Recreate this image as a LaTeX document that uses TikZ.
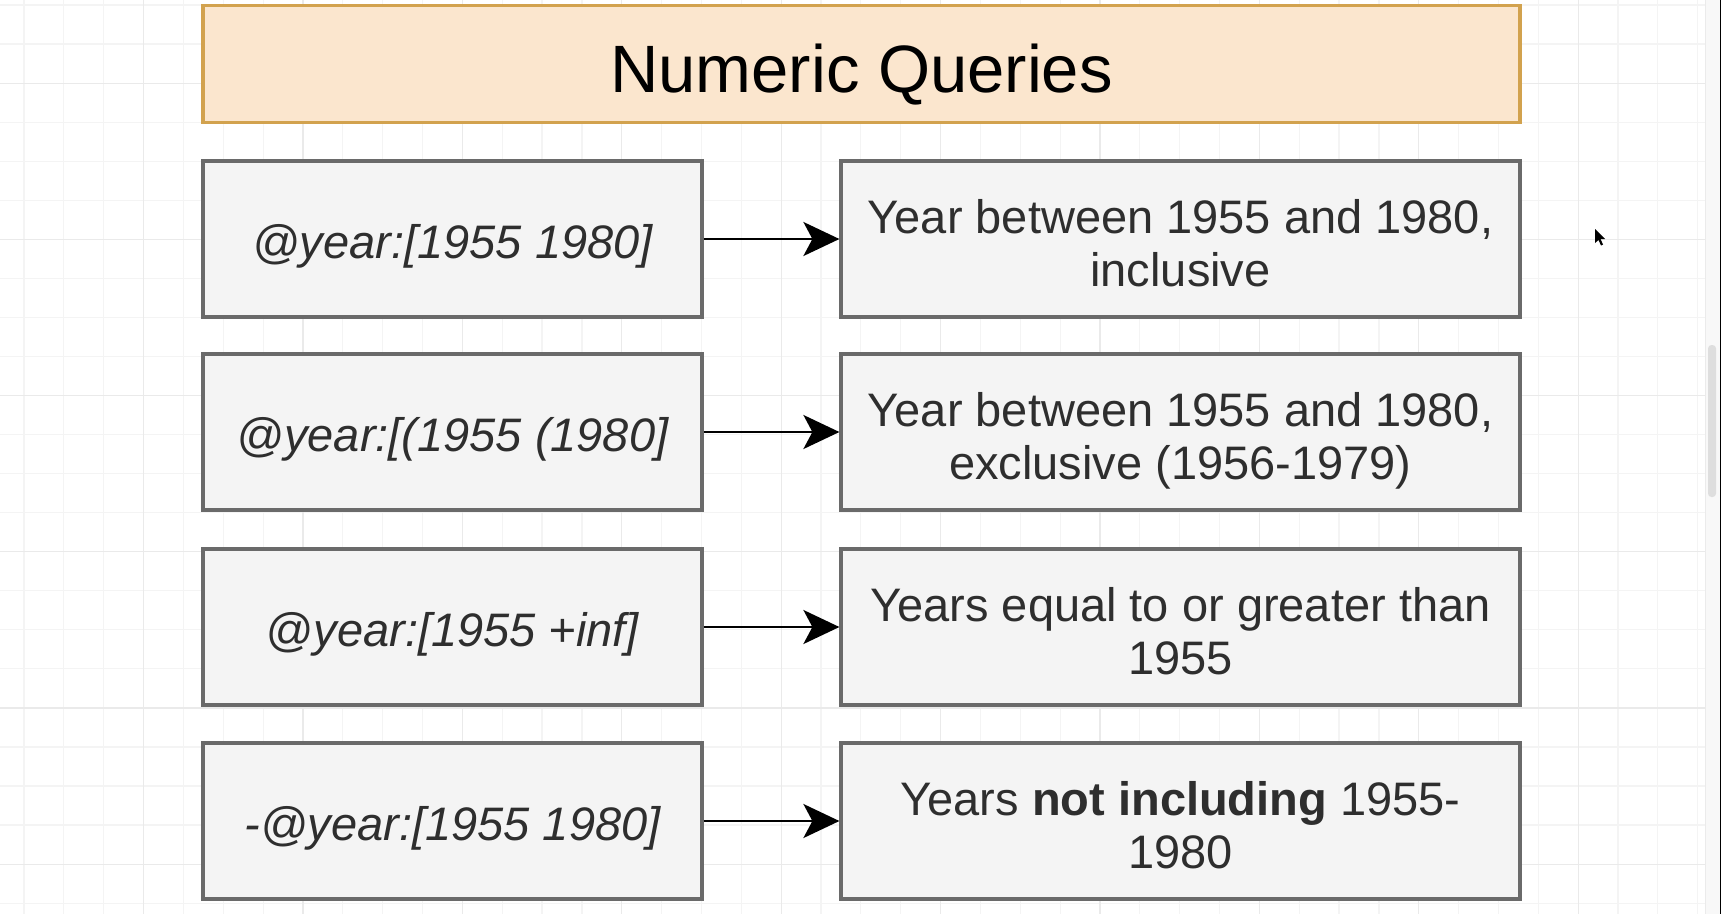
\documentclass[tikz,border=0pt]{standalone}
\usepackage{fontspec}
\setmainfont{Liberation Sans}
\usetikzlibrary{arrows.meta}
\definecolor{boxfill}{HTML}{F4F4F4}
\definecolor{boxline}{HTML}{6A6A6A}
\definecolor{titlefill}{HTML}{FBE6CE}
\definecolor{titleline}{HTML}{D2A24E}
\definecolor{txt}{HTML}{2E2E2E}
\definecolor{gridminor}{HTML}{F4F4F4}
\definecolor{gridmajor}{HTML}{EAEAEA}
\definecolor{panel}{HTML}{F8F8F8}
\definecolor{panelline}{HTML}{EBEBEB}
\definecolor{scroll}{HTML}{DEDEDE}
\tikzset{
  qbox/.style={draw=boxline, fill=boxfill, line width=3.2pt, minimum width=499pt, minimum height=156pt, inner sep=0pt, align=center, text=txt, font=\fontsize{47}{53}\selectfont\itshape, text height=38pt, text depth=0pt},
  abox/.style={draw=boxline, fill=boxfill, line width=3.2pt, minimum width=679pt, minimum height=156pt, inner sep=0pt, align=center, text=txt, font=\fontsize{47}{53}\selectfont, text height=94pt, text depth=0pt},
  titlebox/.style={draw=titleline, fill=titlefill, line width=3.2pt, minimum width=1317pt, minimum height=117pt, inner sep=0pt, text=black, font=\fontsize{67}{75}\selectfont, text height=57pt, text depth=0pt},
  arr/.style={line width=2.4pt, -{Stealth[length=36pt,width=34pt,inset=9pt]}}
}
\begin{document}
\begin{tikzpicture}[x=1pt,y=-1pt]
\useasboundingbox (0,0) rectangle (1721,914);
\fill[white] (0,0) rectangle (1721,914);
% grid
\foreach \k in {0,...,42}{
  \pgfmathsetmacro\xx{24+39.85*\k}
  \draw[gridminor, line width=1.2pt] (\xx,0) -- (\xx,914);
}
\foreach \k in {0,...,23}{
  \pgfmathsetmacro\yy{5+39.05*\k}
  \draw[gridminor, line width=1.2pt] (0,\yy) -- (1705,\yy);
}
\foreach \k in {3,7,...,42}{
  \pgfmathsetmacro\xx{24+39.85*\k}
  \draw[gridmajor, line width=1.2pt] (\xx,0) -- (\xx,914);
}
\foreach \k in {2,6,...,23}{
  \pgfmathsetmacro\yy{5+39.05*\k}
  \draw[gridmajor, line width=1.2pt] (0,\yy) -- (1705,\yy);
}
% right panel, scrollbar and screen edge
\fill[panel] (1705,0) rectangle (1721,914);
\draw[panelline, line width=1pt] (1705,0) -- (1705,914);
\fill[scroll, rounded corners=3.5pt] (1708,345) rectangle (1716,497);
\fill[black] (1719.5,0) rectangle (1721,914);

% title
\node[titlebox] (title) at (861.5,64) {Numeric Queries};

% queries
\node[qbox] (l1) at (452.5,239) {@year:[1955 1980]};
\node[qbox] (l2) at (452.5,432) {@year:[(1955 (1980]};
\node[qbox] (l3) at (452.5,627) {@year:[1955 +inf]};
\node[qbox] (l4) at (452.5,821) {-@year:[1955 1980]};

% meanings
\node[abox] (r1) at (1180.5,239) {Year between 1955 and 1980,\\inclusive};
\node[abox] (r2) at (1180.5,432) {Year between 1955 and 1980,\\exclusive (1956-1979)};
\node[abox] (r3) at (1180.5,627) {Years equal to or greater than\\1955};
\node[abox] (r4) at (1180.5,821) {Years \textbf{not including} 1955-\\1980};

% connectors
\draw[arr] (l1.east) -- (r1.west);
\draw[arr] (l2.east) -- (r2.west);
\draw[arr] (l3.east) -- (r3.west);
\draw[arr] (l4.east) -- (r4.west);

% mouse cursor
\fill[black] (1595,229) -- (1595,243) -- (1598.5,240) -- (1601,245.5) -- (1603,244.5) -- (1600.5,239) -- (1605,239) -- cycle;
\end{tikzpicture}
\end{document}
